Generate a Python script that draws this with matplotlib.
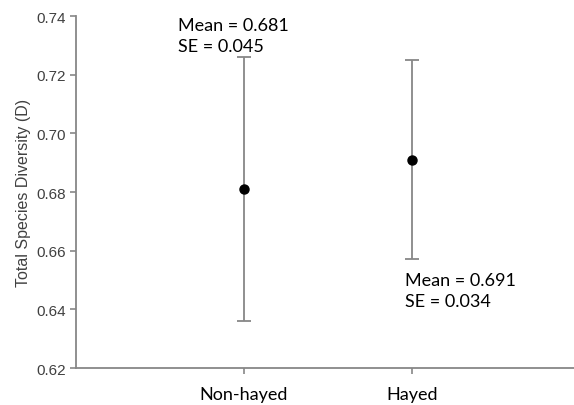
import matplotlib
matplotlib.use("Agg")
from matplotlib import pyplot as plt

# data
groups = ["Non-hayed", "Hayed"]
means = [0.681, 0.691]
se = [0.045, 0.034]
notes = ["Mean = 0.681\nSE = 0.045", "Mean = 0.691\nSE = 0.034"]
yticks = [0.62, 0.64, 0.66, 0.68, 0.70, 0.72, 0.74]

gray = "#878787"
txt = "#404040"

fig = plt.figure(figsize=(5.74, 4.06), dpi=100)
ax = fig.add_axes([0.1324, 0.0911, 0.8676, 0.8669])

xpos = [1, 2]
ax.errorbar(xpos, means, yerr=se, fmt="o", color="black", markersize=6.5,
            ecolor=gray, elinewidth=1.3, capsize=5, capthick=1.3, zorder=3)

ax.set_xlim(0, 2.964)
ax.set_ylim(0.62, 0.74)
ax.set_yticks(yticks)
ax.set_yticklabels(["%.2f" % v for v in yticks], fontsize=11,
                   family="Liberation Sans", color=txt)
ax.set_xticks(xpos)
ax.set_xticklabels(groups, fontsize=13, family="Lato", color="black")

ax.set_ylabel("Total Species Diversity (D)", fontsize=11.5,
              family="Liberation Sans", color=txt, labelpad=4)

for s in ["top", "right"]:
    ax.spines[s].set_visible(False)
for s in ["left", "bottom"]:
    ax.spines[s].set_color(gray)
    ax.spines[s].set_linewidth(1.3)
ax.tick_params(axis="y", direction="out", length=4, width=1.2, color=gray, pad=3)
ax.tick_params(axis="x", direction="out", length=4, width=1.2, color=gray, pad=9)

# annotation boxes
ax.text(0.605, 0.7398, notes[0], fontsize=13, family="Lato", color="black",
        va="top", ha="left", linespacing=1.42)
ax.text(1.96, 0.6528, notes[1], fontsize=13, family="Lato", color="black",
        va="top", ha="left", linespacing=1.42)

fig.savefig("out.png", dpi=100)
